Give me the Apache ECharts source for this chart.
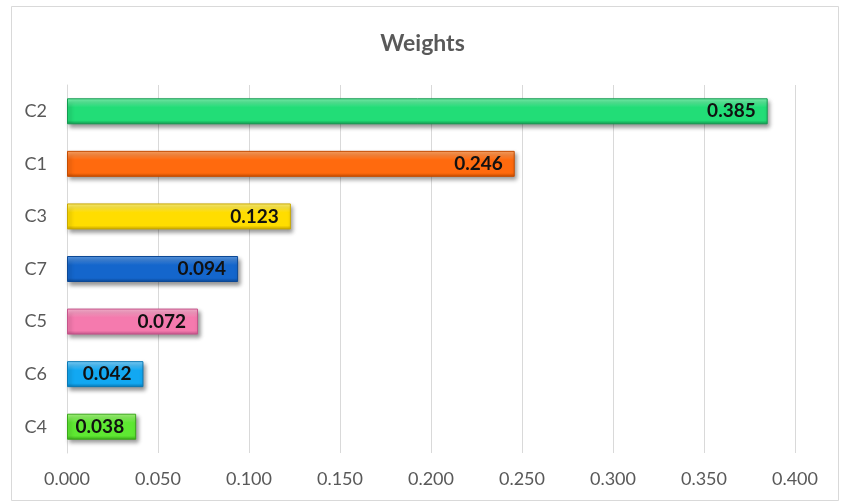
<!DOCTYPE html>
<html>
<head>
<meta charset="utf-8">
<script src="https://cdn.jsdelivr.net/npm/echarts@6/dist/echarts.min.js"></script>
<style>
  html, body { margin: 0; padding: 0; background: #fff; }
  #chart { width: 845px; height: 503px; }
</style>
</head>
<body>
<div id="chart"></div>
<script>
// Criteria weights, listed top to bottom
const categories = ['C2', 'C1', 'C3', 'C7', 'C5', 'C6', 'C4'];
const weights = [0.385, 0.246, 0.123, 0.094, 0.072, 0.042, 0.038];
// Base / highlight / edge colour for each bar
const baseColors = ['#22dd77', '#ff6a0e', '#ffdd00', '#1466cc', '#f57aae', '#12a8f2', '#5ee832'];
const lightColors = ['#7df5b0', '#ffa566', '#fff27a', '#5c9be6', '#fbb5d2', '#7fd4ff', '#a6f77f'];
const edgeColors = ['#139a50', '#c44c00', '#c9a800', '#0c4894', '#c4548a', '#0a78b4', '#3aa81a'];
const xTicks = { min: 0, max: 0.4, interval: 0.05 };

const font = 'Lato, "Open Sans", sans-serif';

function barStyle(i) {
  return {
    color: new echarts.graphic.LinearGradient(0, 0, 0, 1, [
      { offset: 0, color: lightColors[i] },
      { offset: 0.35, color: baseColors[i] },
      { offset: 0.85, color: baseColors[i] },
      { offset: 1, color: edgeColors[i] }
    ]),
    borderColor: edgeColors[i],
    borderWidth: 1,
    shadowColor: 'rgba(0,0,0,0.4)',
    shadowBlur: 4,
    shadowOffsetX: 2,
    shadowOffsetY: 3
  };
}

const chart = echarts.init(document.getElementById('chart'));
chart.setOption({
  backgroundColor: '#fff',
  animation: false,
  title: {
    text: 'Weights',
    left: 'center',
    top: 27,
    textStyle: { fontFamily: font, fontSize: 23, fontWeight: 'bold', color: '#595959' }
  },
  graphic: [{
    type: 'rect',
    shape: { x: 11.5, y: 6.5, width: 827, height: 494 },
    style: { fill: 'none', stroke: '#d9d9d9', lineWidth: 1 },
    z: -1
  }],
  grid: { left: 67, right: 50, top: 85, bottom: 50, containLabel: false },
  xAxis: {
    type: 'value',
    min: xTicks.min,
    max: xTicks.max,
    interval: xTicks.interval,
    axisLine: { show: false },
    axisTick: { show: false },
    axisLabel: {
      margin: 17,
      color: '#595959',
      fontFamily: font,
      fontSize: 18,
      formatter: v => v.toFixed(3)
    },
    splitLine: { lineStyle: { color: '#d9d9d9', width: 1 } }
  },
  yAxis: {
    type: 'category',
    data: categories,
    inverse: true,
    axisLine: { show: true, lineStyle: { color: '#d9d9d9' } },
    axisTick: { show: false },
    axisLabel: { margin: 20, color: '#595959', fontFamily: font, fontSize: 18 }
  },
  series: [{
    type: 'bar',
    barWidth: 26,
    data: weights.map((v, i) => ({ value: v, itemStyle: barStyle(i) })),
    label: {
      show: true,
      position: 'insideRight',
      distance: 12,
      color: '#111',
      fontFamily: font,
      fontSize: 19,
      fontWeight: 'bold',
      formatter: p => p.value.toFixed(3)
    }
  }]
});
</script>
</body>
</html>
